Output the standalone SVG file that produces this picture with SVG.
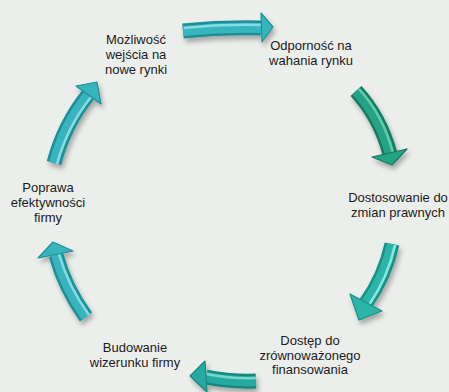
<svg xmlns="http://www.w3.org/2000/svg" width="449" height="392" viewBox="0 0 449 392">
<defs>
<filter id="sh" x="-30%" y="-30%" width="160%" height="160%">
<feGaussianBlur in="SourceAlpha" stdDeviation="2.5"/>
<feOffset dx="2" dy="4" result="b"/>
<feComponentTransfer><feFuncA type="linear" slope="0.3"/></feComponentTransfer>
<feMerge><feMergeNode/><feMergeNode in="SourceGraphic"/></feMerge>
</filter>
</defs>
<style>
text{font-family:"Liberation Sans",Arial,sans-serif;font-size:13px;fill:#1b1b1b;text-anchor:middle}
.arrow{filter:url(#sh)}
.dk{fill:none;stroke-width:15}
.md{fill:none;stroke-width:10}
.hl{fill:none;stroke-width:2.5;stroke-opacity:0.8}
.hd{stroke-width:1.2;stroke-linejoin:round}
.teal .dk{stroke:#1f8f98}.teal .md{stroke:#37b4bf}.teal .hl{stroke:#9be6ec}.teal .hd{fill:#37b4bf;stroke:#1f8f98}
.green .dk{stroke:#157a62}.green .md{stroke:#25a384}.green .hl{stroke:#72d6b9}.green .hd{fill:#25a384;stroke:#157a62}
.aqua .dk{stroke:#1a8f86}.aqua .md{stroke:#2bb5a8}.aqua .hl{stroke:#9ff5ee}.aqua .hd{fill:#2bb5a8;stroke:#1a8f86}
.sea .dk{stroke:#17877f}.sea .md{stroke:#28a9a0}.sea .hl{stroke:#86e2da}.sea .hd{fill:#28a9a0;stroke:#17877f}
</style>
<rect width="449" height="392" fill="#eceeec"/>
<g id="connectors">
<g id="a1" class="arrow teal">
<path class="dk" d="M183,31 Q222,27 261,28"/>
<path class="md" d="M183,31 Q222,27 261,28"/>
<path class="hl" d="M184,28 Q222,24 261,25"/>
<polygon class="hd" points="261,13 273,27 262,42"/>
</g>
<g id="a2" class="arrow green">
<path class="dk" d="M356,91 Q380,117 390,154"/>
<path class="md" d="M356,91 Q380,117 390,154"/>
<path class="hl" d="M359,89 Q383,115 393,153"/>
<polygon class="hd" points="372,157 392,165 407,149"/>
</g>
<g id="a3" class="arrow aqua">
<path class="dk" d="M392,244 Q385,276 366,303"/>
<path class="md" d="M392,244 Q385,276 366,303"/>
<path class="hl" d="M395,245 Q388,277 369,305"/>
<polygon class="hd" points="350,294 359,320 382,311"/>
</g>
<g id="a4" class="arrow sea">
<path class="dk" d="M256,381 Q231,382 206,377"/>
<path class="md" d="M256,381 Q231,382 206,377"/>
<path class="hl" d="M256,378 Q231,379 206,374"/>
<polygon class="hd" points="205,361 190,376 207,392"/>
</g>
<g id="a5" class="arrow teal">
<path class="dk" d="M86,317 Q65,288 56,255"/>
<path class="md" d="M86,317 Q65,288 56,255"/>
<path class="hl" d="M89,315 Q68,286 59,254"/>
<polygon class="hd" points="38,258 53,242 73,251"/>
</g>
<g id="a6" class="arrow teal">
<path class="dk" d="M54,163 Q64,125 88,95"/>
<path class="md" d="M54,163 Q64,125 88,95"/>
<path class="hl" d="M57,164 Q67,127 91,97"/>
<polygon class="hd" points="76,86 97,82 101,104"/>
</g>
</g>
<g id="n1"><text x="136" y="44">Możliwość</text><text x="136" y="59">wejścia na</text><text x="136" y="74">nowe rynki</text></g>
<g id="n2"><text x="311" y="50">Odporność na</text><text x="311" y="64.5">wahania rynku</text></g>
<g id="n3"><text x="398" y="202">Dostosowanie do</text><text x="398" y="216.5">zmian prawnych</text></g>
<g id="n4"><text x="310" y="345">Dostęp do</text><text x="310" y="359.5">zrównoważonego</text><text x="310" y="374">finansowania</text></g>
<g id="n5"><text x="135" y="352">Budowanie</text><text x="135" y="366.5">wizerunku firmy</text></g>
<g id="n6"><text x="48" y="192">Poprawa</text><text x="48" y="207">efektywności</text><text x="48" y="221.5">firmy</text></g>
</svg>
